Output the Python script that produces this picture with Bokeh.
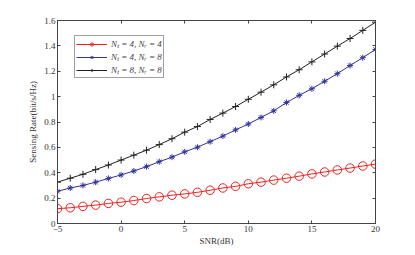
from bokeh.plotting import figure
from bokeh.models import LinearAxis, FixedTicker, Legend, LegendItem, Range1d
from bokeh.embed import file_html
from bokeh.resources import INLINE

snr = list(range(-5, 21))
rate_4_4 = [0.117, 0.124, 0.135, 0.145, 0.158, 0.168, 0.181, 0.197, 0.210, 0.223, 0.233, 0.246, 0.262,
            0.280, 0.293, 0.313, 0.326, 0.342, 0.357, 0.373, 0.391, 0.406, 0.422, 0.437, 0.453, 0.468]
rate_4_8 = [0.254, 0.280, 0.300, 0.326, 0.355, 0.383, 0.414, 0.448, 0.487, 0.523, 0.565, 0.601, 0.645,
            0.689, 0.738, 0.784, 0.836, 0.888, 0.953, 1.010, 1.062, 1.121, 1.181, 1.245, 1.307, 1.372]
rate_8_8 = [0.326, 0.357, 0.388, 0.425, 0.461, 0.500, 0.539, 0.578, 0.622, 0.668, 0.720, 0.764, 0.820,
            0.870, 0.922, 0.979, 1.035, 1.093, 1.155, 1.212, 1.274, 1.336, 1.398, 1.458, 1.522, 1.587]
labels = ["Nₜ = 4, Nᵣ = 4", "Nₜ = 4, Nᵣ = 8", "Nₜ = 8, Nᵣ = 8"]
x_ticks = [-5, 0, 5, 10, 15, 20]
y_ticks = [0, 0.2, 0.4, 0.6, 0.8, 1.0, 1.2, 1.4, 1.6]
y_tick_labels = ["0", "0.2", "0.4", "0.6", "0.8", "1", "1.2", "1.4", "1.6"]

FONT = "Liberation Serif"
AX = "#444444"

p = figure(output_backend="svg", toolbar_location=None,
           width=405, height=248,
           min_border_left=57, min_border_top=20, min_border_right=30, min_border_bottom=21,
           x_range=Range1d(-5, 20), y_range=Range1d(0, 1.6),
           x_axis_label="SNR(dB)", y_axis_label="Sensing Rate(bit/s/Hz)")
p.xgrid.visible = False
p.ygrid.visible = False
p.outline_line_color = AX
p.outline_line_width = 1

top = LinearAxis()
right = LinearAxis()
p.add_layout(top, "above")
p.add_layout(right, "right")

for ax in p.xaxis:
    ax.ticker = FixedTicker(ticks=x_ticks)
for ax in p.yaxis:
    ax.ticker = FixedTicker(ticks=y_ticks)
    ax.major_label_overrides = {t: s for t, s in zip(y_ticks, y_tick_labels)}

for ax in p.axis:
    ax.axis_line_color = AX
    ax.major_tick_line_color = AX
    ax.major_tick_in = 3
    ax.major_tick_out = 0
    ax.minor_tick_line_color = None
    ax.major_label_text_font = FONT
    ax.major_label_text_font_size = "9px"
    ax.major_label_text_color = "#333333"
    ax.axis_label_text_font = FONT
    ax.axis_label_text_font_size = "9px"
    ax.axis_label_text_font_style = "normal"
    ax.axis_label_text_color = "#333333"
    ax.major_label_standoff = 2
    ax.axis_label_standoff = 1

p.yaxis[0].axis_label_standoff = 3

for ax in (top, right):
    ax.major_label_text_color = None
    ax.major_label_text_font_size = "0px"
    ax.major_label_standoff = 0
    ax.axis_label = None

red = "#ee2222"
blue = "#33339a"
black = "#222222"

l1 = p.line(snr, rate_4_4, line_color=red, line_width=1)
m1 = p.scatter(snr, rate_4_4, marker="circle", size=8.5, fill_color=None, line_color=red, line_width=1)
l2 = p.line(snr, rate_4_8, line_color=blue, line_width=1)
m2 = p.scatter(snr, rate_4_8, marker="asterisk", size=6, line_color=blue, line_width=1)
l3 = p.line(snr, rate_8_8, line_color=black, line_width=1)
m3 = p.scatter(snr, rate_8_8, marker="cross", size=7, line_color=black, line_width=1)

legend = Legend(items=[LegendItem(label=labels[0], renderers=[l1, m1]),
                       LegendItem(label=labels[1], renderers=[l2, m2]),
                       LegendItem(label=labels[2], renderers=[l3, m3])],
                location=(17, 145))
legend.label_text_font = FONT
legend.label_text_font_size = "9px"
legend.label_text_font_style = "italic"
legend.label_height = 8
legend.glyph_height = 8
legend.glyph_width = 31
legend.spacing = -3
legend.padding = 1
legend.margin = 0
legend.label_standoff = 4
legend.border_line_color = AX
legend.border_line_width = 1
legend.background_fill_alpha = 1
p.add_layout(legend, "center")

open("out.html", "w").write(file_html(p, INLINE))
